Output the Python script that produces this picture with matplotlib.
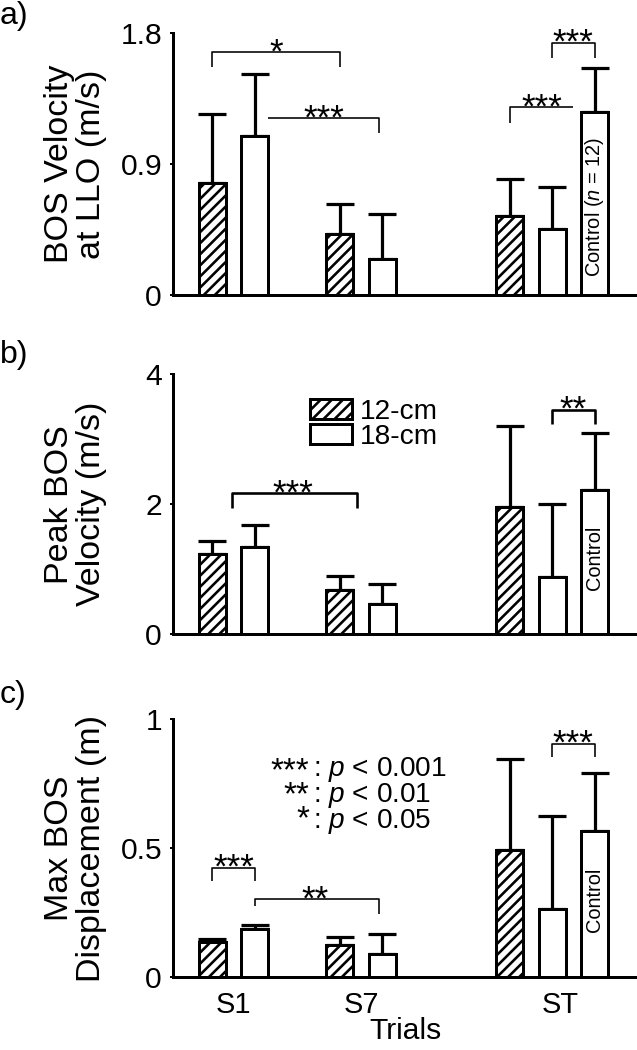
import matplotlib
matplotlib.use("Agg")
import matplotlib.pyplot as plt
import numpy as np

DPI = 133
W, H = 637, 1050
PT = 72.0 / DPI  # px -> pt


def fs(px):
    return px * PT


plt.rcParams['font.family'] = ['Liberation Sans', 'DejaVu Sans']
plt.rcParams['mathtext.fontset'] = 'custom'
plt.rcParams['mathtext.rm'] = 'Liberation Sans'
plt.rcParams['mathtext.it'] = 'Liberation Sans:italic'
plt.rcParams['hatch.linewidth'] = fs(2.6)

# ---------------- data ----------------
categories = ['S1', 'S7', 'ST']
legend_labels = ['12-cm', '18-cm']

# a) BOS velocity at LLO (m/s)
a_mean_12 = [0.773, 0.417, 0.546]
a_sd_12 = [0.472, 0.209, 0.250]
a_mean_18 = [1.094, 0.250, 0.452]
a_sd_18 = [0.426, 0.305, 0.291]
a_control_mean = 1.261
a_control_sd = 0.298

# b) Peak BOS velocity (m/s)
b_mean_12 = [1.232, 0.673, 1.956]
b_sd_12 = [0.206, 0.226, 1.253]
b_mean_18 = [1.335, 0.457, 0.883]
b_sd_18 = [0.344, 0.308, 1.120]
b_control_mean = 2.213
b_control_sd = 0.878

# c) Max BOS displacement (m)
c_mean_12 = [0.138, 0.124, 0.493]
c_sd_12 = [0.012, 0.031, 0.351]
c_mean_18 = [0.186, 0.090, 0.265]
c_sd_18 = [0.015, 0.079, 0.360]
c_control_mean = 0.565
c_control_sd = 0.226

# bar positions
pos_12 = [1, 4, 8]
pos_18 = [2, 5, 9]
pos_control = 10
tick_pos = [1.5, 4.5, 9.2]

# significance brackets: (x1, x2, y, leg1_bottom, leg2_bottom, text, text_x)
a_brackets = [
    (1, 4, 1.669, 1.571, 1.571, '*', 2.5),
    (2.3, 4.92, 1.215, None, 1.112, '***', 3.63),
    (8, 9.5, 1.291, 1.186, None, '***', 8.75),
    (9, 10, 1.736, 1.628, 1.628, '***', 9.5),
]
b_brackets = [
    (1.45, 4.4, 2.167, 1.946, 1.946, '***', 2.9),
    (9, 10, 3.45, 3.23, 3.23, '**', 9.5),
]
c_brackets = [
    (1, 2, 0.4245, 0.372, 0.372, '***', 1.5),
    (2, 4.93, 0.302, 0.277, 0.245, '**', 3.42),
    (9, 10, 0.903, 0.852, 0.852, '***', 9.5),
]

p_stars = ['***', '**', '*']
p_texts = [r': $p$ < 0.001', r': $p$ < 0.01', r': $p$ < 0.05']

# ---------------- figure ----------------
fig = plt.figure(figsize=(W / DPI, H / DPI), dpi=DPI)


def axrect(left, top, bottom, right=W):
    return [left / W, 1 - bottom / H, (right - left) / W, (bottom - top) / H]


ax_a = fig.add_axes(axrect(173, 33.3, 295))
ax_b = fig.add_axes(axrect(173, 374.3, 634))
ax_c = fig.add_axes(axrect(173, 719, 977.3))

BAR_W = 0.635
LW = fs(3)


def draw_panel(ax, m12, s12, m18, s18, cm, csd, ylim, yticks, yticklabels, ylabel):
    b12 = ax.bar(pos_12, m12, width=BAR_W, color='white', edgecolor='black',
                 linewidth=LW, hatch='////', zorder=3)
    b18 = ax.bar(pos_18, m18, width=BAR_W, color='white', edgecolor='black',
                 linewidth=LW, zorder=3)
    ax.bar([pos_control], [cm], width=BAR_W, color='white', edgecolor='black',
           linewidth=LW, zorder=3)
    xs = pos_12 + pos_18 + [pos_control]
    ms = list(m12) + list(m18) + [cm]
    ss = list(s12) + list(s18) + [csd]
    ax.errorbar(xs, ms, yerr=[np.zeros(len(ss)), ss], fmt='none', ecolor='black',
                elinewidth=fs(3.2), capsize=fs(14), capthick=fs(3.2), zorder=2)
    ax.set_xlim(0.07, 11.0)
    ax.set_ylim(*ylim)
    ax.set_yticks(yticks)
    ax.set_yticklabels(yticklabels)
    for s in ('top', 'right'):
        ax.spines[s].set_visible(False)
    ax.spines['left'].set_linewidth(fs(3))
    ax.spines['bottom'].set_linewidth(fs(3))
    ax.tick_params(axis='y', direction='out', length=fs(3), width=fs(2),
                   pad=fs(8), labelsize=fs(30))
    ax.set_ylabel(ylabel, fontsize=fs(34), linespacing=1.02)
    ax.yaxis.set_label_coords(-0.143, 0.5)
    ax.set_facecolor('none')
    return b12, b18


def draw_brackets(ax, brackets, lw):
    for x1, x2, y, l1, l2, txt, tx in brackets:
        xs, ys = [], []
        if l1 is not None:
            xs.append(x1); ys.append(l1)
        xs += [x1, x2]; ys += [y, y]
        if l2 is not None:
            xs.append(x2); ys.append(l2)
        ax.plot(xs, ys, color='black', lw=lw, solid_capstyle='butt',
                clip_on=False, zorder=4)
        ax.annotate(txt, (tx, y), xytext=(0, fs(-10)), textcoords='offset points',
                    ha='center', va='baseline', fontsize=fs(35),
                    annotation_clip=False)


h12, h18 = draw_panel(ax_a, a_mean_12, a_sd_12, a_mean_18, a_sd_18, a_control_mean,
                      a_control_sd, (0, 1.8), [0, 0.9, 1.8], ['0', '0.9', '1.8'],
                      'BOS Velocity\nat LLO (m/s)')
draw_panel(ax_b, b_mean_12, b_sd_12, b_mean_18, b_sd_18, b_control_mean,
           b_control_sd, (0, 4), [0, 2, 4], ['0', '2', '4'],
           'Peak BOS\nVelocity (m/s)')
draw_panel(ax_c, c_mean_12, c_sd_12, c_mean_18, c_sd_18, c_control_mean,
           c_control_sd, (0, 1), [0, 0.5, 1], ['0', '0.5', '1'],
           'Max BOS\nDisplacement (m)')

draw_brackets(ax_a, a_brackets, fs(1.6))
draw_brackets(ax_b, b_brackets, fs(2.6))
draw_brackets(ax_c, c_brackets, fs(1.6))

# control labels
ax_a.text(pos_control, 0.124, r'Control ($n$ = 12)', rotation=90, ha='center',
          va='bottom', fontsize=fs(20), zorder=5)
ax_b.text(pos_control, 0.68, 'Control', rotation=90, ha='center', va='bottom',
          fontsize=fs(20), zorder=5)
ax_c.text(pos_control, 0.175, 'Control', rotation=90, ha='center', va='bottom',
          fontsize=fs(20), zorder=5)

# x axis
for ax in (ax_a, ax_b):
    ax.set_xticks([])
ax_c.set_xticks(tick_pos)
ax_c.set_xticklabels(categories)
ax_c.tick_params(axis='x', length=0, pad=fs(14), labelsize=fs(29))
ax_c.set_xlabel('Trials', fontsize=fs(30), labelpad=fs(-2))

# legend in panel b
ax_b.legend([h12[0], h18[0]], legend_labels, loc='upper left',
            bbox_to_anchor=(0.295, 0.905), frameon=False, fontsize=fs(28),
            borderpad=0, borderaxespad=0, handlelength=42 / 28,
            handleheight=20 / 28, handletextpad=0.3, labelspacing=-0.05)

# p-value key in panel c (two aligned multi-line columns)
ax_c.text(0.293, 0.856, '\n'.join(p_stars), transform=ax_c.transAxes,
          ha='right', va='top', multialignment='right', fontsize=fs(33),
          linespacing=0.70)
ax_c.text(0.301, 0.862, '\n'.join(p_texts), transform=ax_c.transAxes,
          ha='left', va='top', multialignment='left', fontsize=fs(28),
          linespacing=0.87)

# panel letters
fig.text(0.0, 1 - 1 / H, 'a)', ha='left', va='top', fontsize=fs(32))
fig.text(0.0, 1 - 340 / H, 'b)', ha='left', va='top', fontsize=fs(32))
fig.text(0.0, 1 - 680 / H, 'c)', ha='left', va='top', fontsize=fs(32))

fig.savefig('out.png', dpi=DPI)
